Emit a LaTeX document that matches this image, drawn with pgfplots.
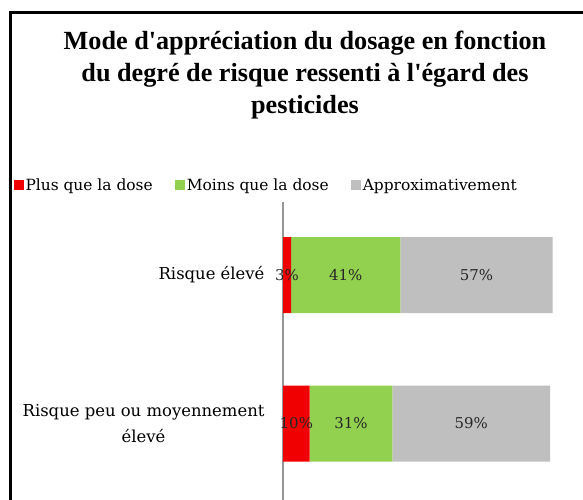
\documentclass[border=0pt]{standalone}
\usepackage{pgfplots}
\pgfplotsset{compat=1.18}
\usepackage{pgfplotstable}
\usepackage{fontspec}
\setmainfont{DejaVu Serif}
\newfontfamily\titlefont{Liberation Serif}
\definecolor{cred}{RGB}{240,0,0}
\definecolor{cgreen}{RGB}{146,208,80}
\definecolor{cgray}{RGB}{191,191,191}
\definecolor{axgray}{RGB}{150,150,150}
\pgfplotstableread{
y plus moins approx
0 10 31 59
1 3 41 57
}\data
\begin{document}
\begin{tikzpicture}
\useasboundingbox (0,0) rectangle (583bp,500bp);
\draw[line width=3bp] (10.5bp,0bp) -- (10.5bp,487.5bp) -- (583bp,487.5bp);
\node[font=\titlefont\bfseries\fontsize{26.3}{32}\selectfont, align=center] at (305bp,425bp)
  {Mode d'appréciation du dosage en fonction\\du degré de risque ressenti à l'égard des\\pesticides};
\begin{axis}[
  at={(283bp,0bp)}, anchor=south west,
  scale only axis, width=267bp, height=298bp,
  xbar stacked, bar width=76bp,
  xmin=0, xmax=100, ymin=-0.515, ymax=1.492,
  axis x line=none, axis y line*=left,
  y axis line style={color=axgray, line width=1.3bp, -},
  ytick={0,1},
  yticklabels={{Risque peu ou moyennement\\élevé},{Risque élevé}},
  yticklabel style={align=center, font=\fontsize{16.5}{26}\selectfont, xshift=-15bp},
  major tick length=0pt,
  clip=false,
  point meta=explicit,
  /pgf/number format/assume math mode=true,
  nodes near coords={\pgfmathprintnumber{\pgfplotspointmeta}\%},
  nodes near coords style={font=\fontsize{15}{18}\selectfont, text=black!85, anchor=center},
  /pgf/number format/precision=0,
  legend columns=3,
  legend style={at={(-1.01,1.055)}, anchor=west, draw=none, fill=none,
    font=\fontsize{15.5}{18}\selectfont,
    /tikz/every even column/.append style={column sep=20bp},
    inner sep=0pt},
  legend image code/.code={\fill[#1] (0bp,-4.5bp) rectangle (10bp,5.5bp);},
]
\addplot[fill=cred, draw=none]
  table[x=plus, y=y, meta=plus]{\data};
\addlegendentry{Plus que la dose}
\addplot[fill=cgreen, draw=none]
  table[x=moins, y=y, meta=moins]{\data};
\addlegendentry{Moins que la dose}
\addplot[fill=cgray, draw=none]
  table[x=approx, y=y, meta=approx]{\data};
\addlegendentry{Approximativement}
\end{axis}
\end{tikzpicture}
\end{document}
